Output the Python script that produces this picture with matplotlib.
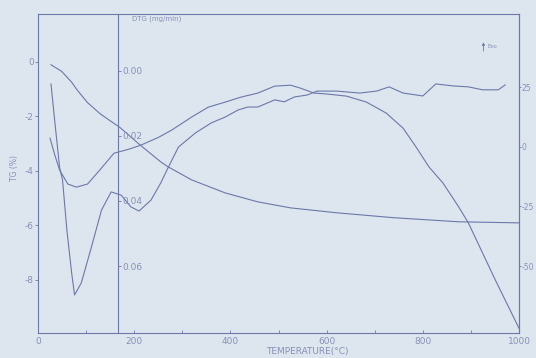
"""TG / DTG / DTA thermogram, redrawn from a scanned plot."""
import matplotlib
matplotlib.use("Agg")
import matplotlib.pyplot as plt

# TG (%) vs temperature
temp_tg = [27, 49, 70, 82, 103, 130, 171, 212, 255, 270, 319, 389, 457, 525, 621, 739, 874, 1000]
tg = [-0.11, -0.35, -0.75, -1.05, -1.50, -1.92, -2.42, -3.05, -3.67, -3.85, -4.33,
      -4.81, -5.14, -5.36, -5.54, -5.72, -5.87, -5.91]

# DTG (mg/min, drawn downward)
temp_dtg = [27, 35, 45, 51, 60, 70, 76, 90, 111, 132, 152, 173, 193, 210, 235, 255, 268,
            292, 327, 360, 389, 416, 436, 457, 492, 512, 533, 560, 580, 621, 669, 704,
            730, 759, 800, 827, 862, 895, 924, 957, 971]
dtg = [0.0040, 0.0157, 0.0298, 0.0335, 0.0489, 0.0622, 0.0689, 0.0652, 0.0542, 0.0428,
       0.0372, 0.0382, 0.0418, 0.0431, 0.0397, 0.0345, 0.0305, 0.0234, 0.0191, 0.0160,
       0.0142, 0.0120, 0.0111, 0.0111, 0.0089, 0.0095, 0.0080, 0.0074, 0.0062, 0.0062,
       0.0068, 0.0062, 0.0049, 0.0068, 0.0077, 0.0040, 0.0046, 0.0049, 0.0058, 0.0058,
       0.0043]

# DTA (right axis)
temp_dta = [25, 35, 45, 62, 80, 103, 132, 158, 189, 214, 251, 278, 319, 354, 389, 422,
            457, 492, 525, 545, 574, 601, 642, 683, 724, 759, 786, 813, 842, 875, 895,
            951, 1000]
dta = [3.6, -3.5, -9.8, -15.6, -16.9, -15.6, -8.9, -2.7, -1.0, 0.7, 4.0, 7.0, 12.4,
       16.6, 18.7, 20.8, 22.5, 25.4, 25.8, 24.6, 22.5, 22.1, 21.2, 18.7, 14.1, 7.8,
       -0.1, -8.5, -15.2, -25.3, -32.0, -55.9, -76.0]

x_ticks = [0, 200, 400, 600, 800, 1000]
tg_ticks = [0, -2, -4, -6, -8]
dtg_ticks = [0.00, 0.02, 0.04, 0.06]
dta_ticks = [25, 0, -25, -50]

BG = "#dde6ef"
INK = "#6b78a8"
TXT = "#8691b6"
FS = 6.5

fig = plt.figure(figsize=(5.36, 3.58), dpi=100, facecolor=BG)
ax = fig.add_axes([0.0709, 0.0698, 0.8974, 0.891])
ax.set_facecolor(BG)
ax.plot(temp_tg, tg, color=INK, lw=0.8)
ax.set_xlim(0, 1000)
ax.set_ylim(-9.95, 1.75)
ax.set_xticks(x_ticks)
ax.set_xticks([100, 300, 500, 700, 900], minor=True)
ax.set_yticks(tg_ticks)
ax.set_yticklabels([str(v) for v in tg_ticks])
ax.tick_params(axis="x", direction="in", length=2, width=0.6, colors=INK,
               labelcolor=TXT, labelsize=FS, pad=3)
ax.tick_params(axis="x", which="minor", direction="in", length=2, width=0.6, colors=INK)
ax.tick_params(axis="y", direction="out", length=2, width=0.6, colors=INK,
               labelcolor=TXT, labelsize=FS, pad=1)
for s in ax.spines.values():
    s.set_color(INK)
    s.set_linewidth(0.8)
ax.set_xlabel("TEMPERATURE(°C)", color=TXT, fontsize=FS)
ax.xaxis.set_label_coords(0.56, -0.045)
ax.set_ylabel("TG (%)", color=TXT, fontsize=FS - 1)
ax.yaxis.set_label_coords(-0.04, 0.517)

# DTG axis, spine inside the frame
ax2 = ax.twinx()
ax2.plot(temp_dtg, dtg, color=INK, lw=0.8)
ax2.set_ylim(0.0806, -0.0175)
ax2.spines["right"].set_position(("axes", 0.1667))
for k in ("left", "top", "bottom"):
    ax2.spines[k].set_visible(False)
ax2.spines["right"].set_color(INK)
ax2.spines["right"].set_linewidth(0.8)
ax2.set_yticks(dtg_ticks)
ax2.set_yticklabels([f"{v:.2f}" for v in dtg_ticks])
ax2.tick_params(axis="y", direction="out", length=2, width=0.6, colors=INK,
                labelcolor=TXT, labelsize=FS, pad=1)
ax.text(0.195, 0.985, "DTG (mg/min)", transform=ax.transAxes, color=TXT,
        fontsize=FS - 1.5, ha="left", va="center")

# DTA axis on the right
ax3 = ax.twinx()
ax3.plot(temp_dta, dta, color=INK, lw=0.8)
ax3.set_ylim(-78, 55.6)
for k in ("left", "top", "bottom"):
    ax3.spines[k].set_visible(False)
ax3.spines["right"].set_color(INK)
ax3.spines["right"].set_linewidth(0.8)
ax3.set_yticks(dta_ticks)
ax3.set_yticklabels([str(v) for v in dta_ticks])
ax3.tick_params(axis="y", direction="out", length=1.5, width=0.6, colors=INK,
                labelcolor=TXT, labelsize=5.5, pad=0.5)

# exo direction marker
ax.annotate("", xy=(0.926, 0.92), xytext=(0.926, 0.875), xycoords="axes fraction",
            arrowprops=dict(arrowstyle="-|>", color=INK, lw=0.6, mutation_scale=4))
ax.text(0.935, 0.897, "Exo", transform=ax.transAxes, color=TXT, fontsize=4,
        va="center", ha="left")

fig.savefig("out.png", dpi=100, facecolor=BG)
